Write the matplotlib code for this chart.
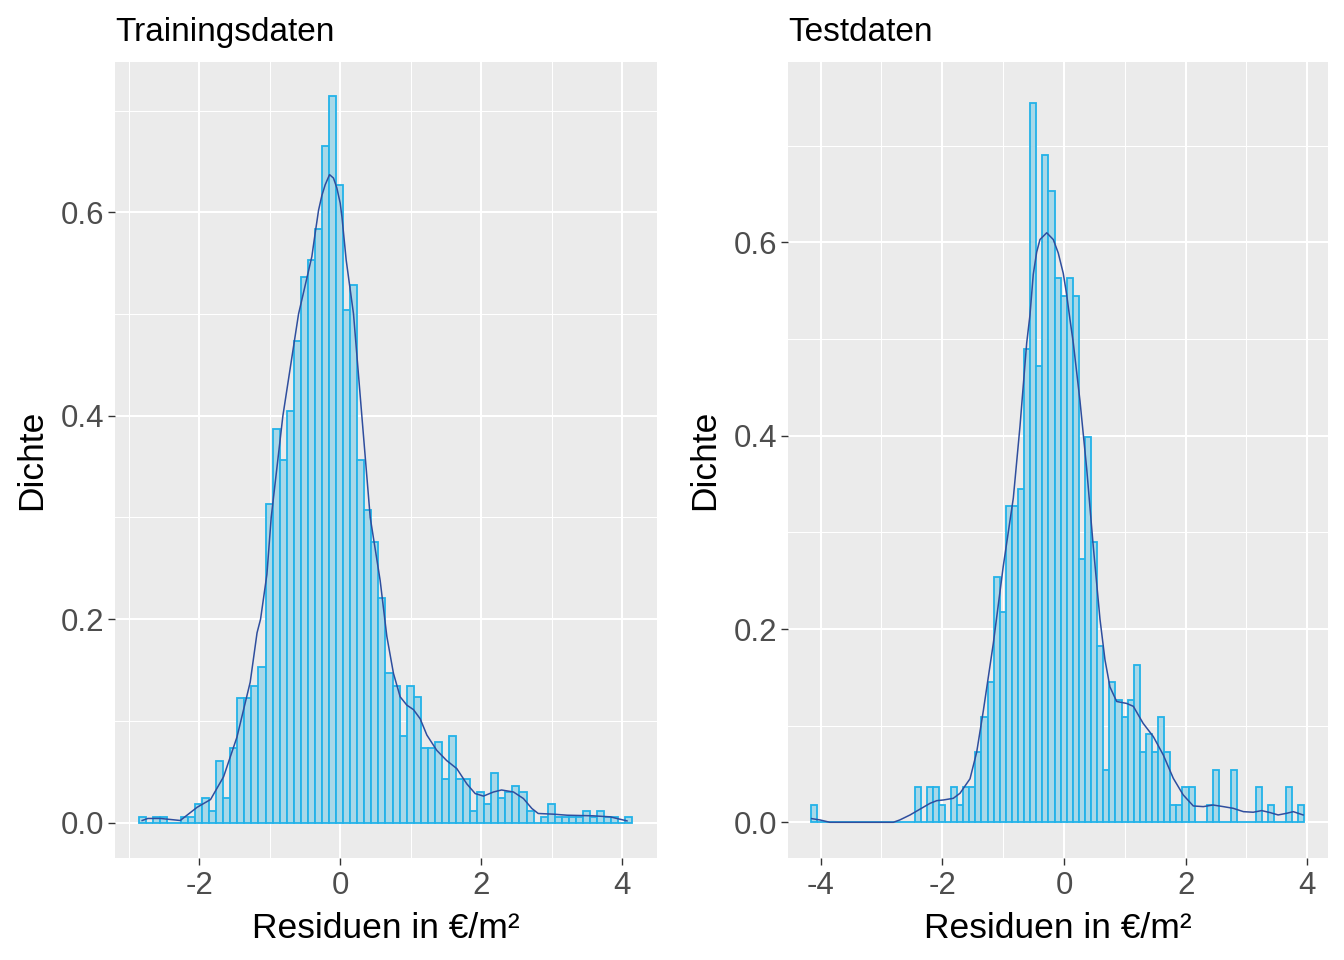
import numpy as np
import matplotlib
matplotlib.use("Agg")
import matplotlib.pyplot as plt

plt.rcParams['font.family'] = ['Liberation Sans', 'DejaVu Sans']

# Histogram densities (bin width 0.1)
train_start = -2.861
train_width = 0.1001
train_density = [
    0.0055, 0.0, 0.0055, 0.0055, 0.0, 0.0, 0.005, 0.0055, 0.0187, 0.024,
    0.0114, 0.0606, 0.024, 0.0734, 0.1226, 0.1226, 0.134, 0.153, 0.313, 0.387,
    0.356, 0.405, 0.473, 0.536, 0.553, 0.584, 0.665, 0.714, 0.627, 0.504,
    0.528, 0.356, 0.3075, 0.276, 0.221, 0.147, 0.134, 0.085, 0.134, 0.123,
    0.0734, 0.0734, 0.079, 0.043, 0.085, 0.043, 0.043, 0.0115, 0.030, 0.018,
    0.049, 0.024, 0.030, 0.036, 0.030, 0.0115, 0.0, 0.0056, 0.018, 0.0056,
    0.0056, 0.0056, 0.0056, 0.0115, 0.0056, 0.0115, 0.0056, 0.0056, 0.0, 0.0056,
]

test_start = -4.159
test_width = 0.1001
test_density = [
    0.018, 0.0, 0.0, 0.0, 0.0, 0.0, 0.0, 0.0, 0.0, 0.0,
    0.0, 0.0, 0.0, 0.0, 0.0, 0.0, 0.0, 0.036, 0.0, 0.036,
    0.036, 0.018, 0.0, 0.036, 0.018, 0.036, 0.036, 0.073, 0.109, 0.145,
    0.254, 0.218, 0.327, 0.327, 0.345, 0.490, 0.744, 0.472, 0.690, 0.653,
    0.563, 0.545, 0.563, 0.545, 0.272, 0.399, 0.290, 0.182, 0.054, 0.145,
    0.127, 0.109, 0.127, 0.163, 0.073, 0.091, 0.073, 0.109, 0.073, 0.018,
    0.018, 0.036, 0.036, 0.0, 0.0, 0.018, 0.054, 0.0, 0.0, 0.054,
    0.0, 0.0, 0.0, 0.036, 0.0, 0.018, 0.0, 0.0, 0.036, 0.0,
    0.018,
]

# Density curves, points
train_kde_x = [-2.81, -2.73, -2.55, -2.27, -2.03, -1.84, -1.655, -1.465, -1.277, -1.18,
               -1.13, -1.04, -0.979, -0.813, -0.591, -0.402, -0.355, -0.307, -0.26, -0.213,
               -0.151, -0.095, -0.047, 0.0, 0.024, 0.085, 0.189, 0.307,
               0.426, 0.567, 0.662, 0.756, 0.851, 0.946, 1.04, 1.135, 1.23, 1.37,
               1.51, 1.655, 1.797, 1.915, 2.033, 2.174, 2.29, 2.46, 2.60, 2.72,
               2.81, 3.03, 3.22, 3.59, 3.83, 4.07]
train_kde_y = [0.002, 0.004, 0.004, 0.002, 0.015, 0.0226, 0.045, 0.084, 0.138, 0.1865,
               0.2, 0.244, 0.3, 0.4, 0.5, 0.5565, 0.5795, 0.602, 0.6165, 0.627,
               0.637, 0.6336, 0.6238, 0.609, 0.596, 0.553, 0.5, 0.4,
               0.3, 0.238, 0.183, 0.1466, 0.1236, 0.1154, 0.111, 0.102, 0.086, 0.071,
               0.061, 0.053, 0.038, 0.0285, 0.026, 0.030, 0.032, 0.030, 0.0236, 0.0138,
               0.0089, 0.0082, 0.0072, 0.0066, 0.0056, 0.0016]

test_kde_x = [-4.148, -4.01, -3.85, -2.806, -2.70, -2.53, -2.37, -2.20, -2.09, -1.98,
              -1.82, -1.71, -1.545, -1.435, -1.327, -1.162, -0.998, -0.833, -0.723, -0.613,
              -0.559, -0.505, -0.449, -0.395, -0.284, -0.176, -0.094, -0.012, 0.044, 0.099,
              0.153, 0.263, 0.373, 0.482,
              0.592, 0.674, 0.756, 0.866, 1.03, 1.14, 1.30, 1.468, 1.632, 1.797,
              1.96, 2.126, 2.29, 2.45, 2.62, 2.78, 2.95, 3.11, 3.25, 3.39,
              3.52, 3.66, 3.77, 3.93]
test_kde_y = [0.0038, 0.0024, 0.0, 0.0, 0.0024, 0.0076, 0.0135, 0.0197, 0.0224, 0.0231,
              0.0248, 0.030, 0.045, 0.0726, 0.115, 0.185, 0.265, 0.3355, 0.41, 0.496,
              0.525, 0.567, 0.590, 0.603, 0.610, 0.603, 0.589, 0.568, 0.546, 0.52,
              0.496, 0.436, 0.366, 0.285,
              0.21, 0.168, 0.140, 0.125, 0.123, 0.120, 0.1025, 0.0887, 0.0697, 0.0455,
              0.0283, 0.0169, 0.0162, 0.0179, 0.0162, 0.0145, 0.011, 0.0104, 0.0121, 0.010,
              0.0076, 0.0093, 0.011, 0.0076]

x_label = "Residuen in €/m²"
y_label = "Dichte"

FILL = '#A8D8E8'
EDGE = '#22B2E8'
LINE = '#2F4E9E'
PANEL = '#EBEBEB'


def draw_panel(ax, title, start, width, dens, kx, ky, xlim, ylim,
               xmajor, xminor, ymajor, yminor):
    ax.set_facecolor(PANEL)
    for s in ax.spines.values():
        s.set_visible(False)
    for v in xminor:
        ax.axvline(v, color='white', lw=0.75, zorder=0)
    for v in xmajor:
        ax.axvline(v, color='white', lw=1.5, zorder=0)
    for v in yminor:
        ax.axhline(v, color='white', lw=0.75, zorder=0)
    for v in ymajor:
        ax.axhline(v, color='white', lw=1.5, zorder=0)

    lefts = start + width * np.arange(len(dens))
    ax.bar(lefts, dens, width=width, align='edge', color=FILL,
           edgecolor=EDGE, linewidth=1.3, zorder=2)
    ax.plot(kx, ky, color=LINE, lw=1.1, zorder=3)

    ax.set_xlim(*xlim)
    ax.set_ylim(*ylim)
    ax.set_xticks(xmajor)
    ax.set_xticklabels([f"{v:g}" for v in xmajor])
    ax.set_yticks(ymajor)
    ax.set_yticklabels([f"{v:.1f}" for v in ymajor])
    ax.tick_params(axis='both', length=5, width=1.0, color='#333333',
                   labelsize=22.5, labelcolor='#4D4D4D')
    ax.tick_params(axis='x', pad=4)
    ax.tick_params(axis='y', pad=3)
    ax.set_xlabel(x_label, fontsize=25.5, labelpad=8)
    ax.set_ylabel(y_label, fontsize=25.5, labelpad=9)
    ax.set_title(title, loc='left', fontsize=24, pad=15)


fig = plt.figure(figsize=(13.44, 9.6), dpi=100)
ax1 = fig.add_axes([0.0856, 0.1059, 0.4032, 0.8298])
ax2 = fig.add_axes([0.5863, 0.1059, 0.4018, 0.8298])

draw_panel(ax1, "Trainingsdaten", train_start, train_width, train_density,
           train_kde_x, train_kde_y, (-3.195, 4.495), (-0.0352, 0.748),
           [-2, 0, 2, 4], [-3, -1, 1, 3], [0.0, 0.2, 0.4, 0.6], [0.1, 0.3, 0.5, 0.7])
draw_panel(ax2, "Testdaten", test_start, test_width, test_density,
           test_kde_x, test_kde_y, (-4.537, 4.34), (-0.0373, 0.787),
           [-4, -2, 0, 2, 4], [-3, -1, 1, 3], [0.0, 0.2, 0.4, 0.6], [0.1, 0.3, 0.5, 0.7])

fig.savefig("out.png", dpi=100)
